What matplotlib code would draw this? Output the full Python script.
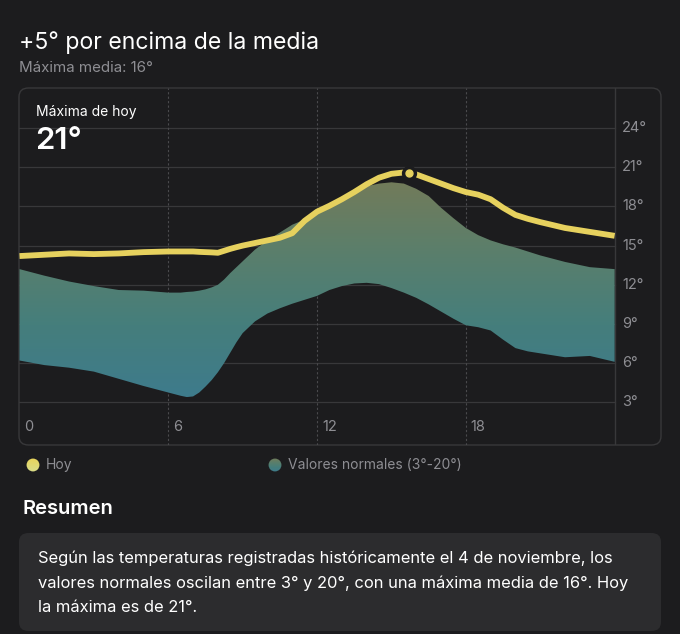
import numpy as np
import matplotlib
matplotlib.use('Agg')
import matplotlib.pyplot as plt
from matplotlib.colors import LinearSegmentedColormap
from matplotlib.patches import FancyBboxPatch, Circle

plt.rcParams['font.family'] = ['Inter', 'DejaVu Sans']

hours = [0, 1, 2, 3, 4, 5, 6, 6.5, 6.75, 7, 7.25, 7.5, 7.75, 8, 8.25, 8.5, 8.75, 9, 9.5,
         10, 10.5, 11, 11.5, 12, 12.5, 13, 13.5, 14, 14.5, 15, 15.5, 16, 16.5, 17, 17.5,
         18, 18.5, 19, 19.5, 20, 20.5, 21, 22, 23, 24]
hoy = [14.2, 14.3, 14.4, 14.35, 14.4, 14.5, 14.55, 14.55, 14.55, 14.55, 14.52, 14.5, 14.48,
       14.45, 14.6, 14.75, 14.88, 15.0, 15.2, 15.4, 15.6, 15.95, 16.9, 17.6, 18.05, 18.55,
       19.1, 19.7, 20.2, 20.5, 20.6, 20.45, 20.1, 19.75, 19.4, 19.1, 18.9, 18.55, 17.9,
       17.35, 17.05, 16.8, 16.35, 16.05, 15.75]
normal_max = [13.2, 12.7, 12.25, 11.9, 11.6, 11.55, 11.4, 11.4, 11.45, 11.48, 11.55, 11.65,
              11.8, 12.0, 12.4, 12.9, 13.35, 13.8, 14.7, 15.4, 16.0, 16.6, 17.0, 17.4, 18.2,
              18.7, 19.3, 19.55, 19.75, 19.85, 19.75, 19.35, 18.8, 17.9, 17.1, 16.35, 15.8,
              15.4, 15.1, 14.85, 14.55, 14.25, 13.75, 13.35, 13.2]
normal_min = [6.2, 5.85, 5.65, 5.35, 4.8, 4.25, 3.75, 3.5, 3.4, 3.45, 3.75, 4.2, 4.7, 5.3,
              6.0, 6.8, 7.6, 8.3, 9.2, 9.8, 10.2, 10.55, 10.85, 11.15, 11.6, 11.9, 12.1,
              12.15, 12.05, 11.75, 11.4, 11.0, 10.5, 9.95, 9.4, 8.9, 8.75, 8.5, 7.8, 7.15,
              6.9, 6.75, 6.45, 6.55, 6.1]
peak_hour, peak_temp = 15.69, 20.55

x_ticks = [0, 6, 12, 18]
y_ticks = [3, 6, 9, 12, 15, 18, 21, 24]

bg = '#1c1c1e'
grid = '#38383a'
grey = '#8e8e93'
yellow = '#e6d15e'

W, H = 680, 634
fig = plt.figure(figsize=(W / 100, H / 100), dpi=100, facecolor=bg)


def fx(px):
    return px / W


def fy(py):
    return 1 - py / H


normal_cmap = LinearSegmentedColormap.from_list(
    'normal', ['#3e7b8c', '#457e7c', '#5a7f6c', '#727b5a'])
hoy_cmap = LinearSegmentedColormap.from_list('hoy', ['#d9dd8a', '#e8d35a'])
grad = np.linspace(0, 1, 256).reshape(-1, 1)


def legend_dot(cx, cy, cmap):
    # small gradient filled circle
    r = 7
    dax = fig.add_axes([fx(cx - r), fy(cy + r), fx(2 * r), fx(2 * r) * W / H])
    dax.set_axis_off()
    img = dax.imshow(grad, extent=[0, 1, 0, 1], origin='lower', cmap=cmap, aspect='auto')
    c = Circle((0.5, 0.5), 0.46, transform=dax.transAxes)
    img.set_clip_path(c)


# header
fig.text(fx(19), fy(43), '+5° por encima de la media', color='white', fontsize=16.6,
         va='center', ha='left')
fig.text(fx(19), fy(68), 'Máxima media: 16°', color=grey, fontsize=10.9, va='center', ha='left')

# chart panel
fig.add_artist(FancyBboxPatch((fx(19), fy(445)), fx(661) - fx(19), fy(88) - fy(445),
                              boxstyle='round,pad=0,rounding_size=0.014',
                              transform=fig.transFigure, facecolor=bg, edgecolor=grid,
                              linewidth=1.0, zorder=0))

ax = fig.add_axes([fx(19), fy(445), fx(661) - fx(19), fy(88) - fy(445)])
ax.set_facecolor('none')
for s in ax.spines.values():
    s.set_visible(False)
ax.set_xticks([])
ax.set_yticks([])

for t in y_ticks:
    ax.plot([0, 24], [t, t], color=grid, lw=0.9, zorder=1)
    ax.text(24.3, t, f'{t}°', color=grey, fontsize=10.5, va='center', ha='left')
for h in x_ticks[1:]:
    ax.axvline(h, color='#4a4a4d', lw=0.8, ls=(0, (2, 2)), zorder=1)
for h in x_ticks:
    ax.text(h + 0.2, 1.1, str(h), color=grey, fontsize=10.5, va='center', ha='left')
ax.axvline(24, color=grid, lw=1.0, zorder=1)

# normal range with vertical gradient
band = ax.fill_between(hours, normal_min, normal_max, color='none', lw=0)
im = ax.imshow(grad, extent=[0, 24, min(normal_min), max(normal_max)], origin='lower',
               cmap=normal_cmap, aspect='auto', zorder=2)
im.set_clip_path(band.get_paths()[0], transform=ax.transData)

# today line
ax.plot(hours, hoy, color=yellow, lw=4.2, solid_capstyle='butt', zorder=3)
ax.plot(peak_hour, peak_temp, 'o', color=bg, markersize=10, zorder=4)
ax.plot(peak_hour, peak_temp, 'o', color=yellow, markersize=5, zorder=5)

ax.set_xlim(-0.02, 25.87)
ax.set_ylim(-0.27, 27.07)

fig.text(fx(36), fy(112), 'Máxima de hoy', color='white', fontsize=10, va='center', ha='left')
fig.text(fx(35), fy(141), '21°', color='white', fontsize=22.5, fontweight='semibold',
         va='center', ha='left')

# legend
legend_dot(33, 465, hoy_cmap)
fig.text(fx(46), fy(465), 'Hoy', color=grey, fontsize=10, va='center', ha='left')
legend_dot(275, 465, normal_cmap)
fig.text(fx(288), fy(465), 'Valores normales (3°-20°)', color=grey, fontsize=10,
         va='center', ha='left')

# summary
fig.text(fx(23), fy(509), 'Resumen', color='white', fontsize=14.5, fontweight='semibold',
         va='center', ha='left')
fig.add_artist(FancyBboxPatch((fx(19), fy(631)), fx(661) - fx(19), fy(533) - fy(631),
                              boxstyle='round,pad=0,rounding_size=0.014',
                              transform=fig.transFigure, facecolor='#2c2c2e',
                              edgecolor='none', zorder=0))
summary = ['Según las temperaturas registradas históricamente el 4 de noviembre, los',
           'valores normales oscilan entre 3° y 20°, con una máxima media de 16°. Hoy',
           'la máxima es de 21°.']
for i, line in enumerate(summary):
    fig.text(fx(38), fy(558 + 25 * i), line, color='white', fontsize=11.9, va='center',
             ha='left')

fig.savefig('out.png', dpi=100, facecolor=bg)
